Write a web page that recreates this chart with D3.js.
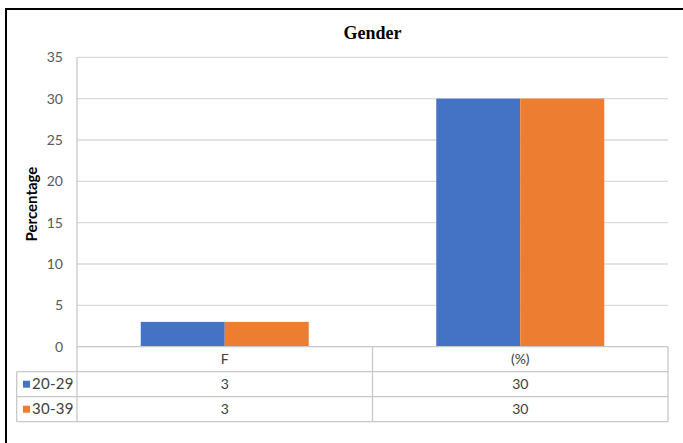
<!DOCTYPE html>
<html lang="en">
<head>
  <meta charset="UTF-8">
  <title>Gender</title>
  <script src="https://d3js.org/d3.v7.min.js"></script>
  <style>
    body
    {
      margin: 0;
      background-color: #ffffff;
    }

    svg
    {
      font-family: Lato, "Open Sans", sans-serif;
      display: block;
    }
  </style>
</head>
<body>
  <svg width="683" height="443"></svg>
  <script>
    const categories = ["F", "(%)"];
    const seriesNames = ["20-29", "30-39"];
    const values2029 = [3, 30];
    const values3039 = [3, 30];
    const yTicks = [0, 5, 10, 15, 20, 25, 30, 35];

    const seriesValues = [values2029, values3039];
    const colors = ["#4472C4", "#ED7D31"];

    const svg = d3.select("svg");

    const plot = { left: 77, right: 668, top: 57.3, bottom: 346.7 };
    const rowH = 25;
    const tableLeft = 16.7;

    //outer frame
    svg.append("rect")
      .attr("x", 6)
      .attr("y", 9)
      .attr("width", 700)
      .attr("height", 460)
      .attr("fill", "none")
      .attr("stroke", "#000")
      .attr("stroke-width", 2);

    const y = d3.scaleLinear()
      .domain([0, 35])
      .range([plot.bottom, plot.top]);

    const x0 = d3.scaleBand()
      .domain(categories)
      .range([plot.left, plot.right])
      .paddingInner(0)
      .paddingOuter(0);

    const x1 = d3.scaleBand()
      .domain(seriesNames)
      .range([0, x0.bandwidth()])
      .paddingInner(0)
      .paddingOuter(0.759);

    //gridlines
    svg.append("g")
      .selectAll("line")
      .data(yTicks.filter(t => t > 0))
      .join("line")
      .attr("x1", plot.left)
      .attr("x2", plot.right)
      .attr("y1", d => y(d))
      .attr("y2", d => y(d))
      .attr("stroke", "#d9d9d9")
      .attr("stroke-width", 1.3);

    //tick labels
    svg.append("g")
      .selectAll("text")
      .data(yTicks)
      .join("text")
      .attr("x", 63)
      .attr("y", d => y(d))
      .attr("dy", "0.35em")
      .attr("text-anchor", "end")
      .attr("fill", "#595959")
      .style("font-size", "14px")
      .text(d => d);

    //bars
    const rows = [];
    seriesNames.forEach((s, i) => {
      categories.forEach((c, j) => {
        rows.push({ series: s, cat: c, value: seriesValues[i][j], color: colors[i] });
      });
    });

    svg.append("g")
      .selectAll("rect")
      .data(rows)
      .join("rect")
      .attr("x", d => x0(d.cat) + x1(d.series))
      .attr("y", d => y(d.value))
      .attr("width", x1.bandwidth())
      .attr("height", d => y(0) - y(d.value))
      .attr("fill", d => d.color);

    //data table
    const table = svg.append("g")
      .attr("stroke", "#c8c8c8")
      .attr("stroke-width", 1.3);

    table.append("line")
      .attr("x1", plot.left).attr("x2", plot.right)
      .attr("y1", plot.bottom).attr("y2", plot.bottom);

    [1, 2, 3].forEach(r => {
      table.append("line")
        .attr("x1", tableLeft).attr("x2", plot.right)
        .attr("y1", plot.bottom + r * rowH).attr("y2", plot.bottom + r * rowH);
    });

    table.append("line")
      .attr("x1", tableLeft).attr("x2", tableLeft)
      .attr("y1", plot.bottom + rowH).attr("y2", plot.bottom + 3 * rowH);

    table.append("line")
      .attr("x1", plot.left).attr("x2", plot.left)
      .attr("y1", plot.top).attr("y2", plot.bottom + 3 * rowH);

    categories.slice(1).forEach(c => {
      table.append("line")
        .attr("x1", x0(c)).attr("x2", x0(c))
        .attr("y1", plot.bottom).attr("y2", plot.bottom + 3 * rowH);
    });

    table.append("line")
      .attr("x1", plot.right).attr("x2", plot.right)
      .attr("y1", plot.bottom).attr("y2", plot.bottom + 3 * rowH);

    const textColor = "#404040";

    //category row
    svg.append("g")
      .selectAll("text")
      .data(categories)
      .join("text")
      .attr("x", d => x0(d) + x0.bandwidth() / 2)
      .attr("y", plot.bottom + rowH / 2)
      .attr("dy", "0.35em")
      .attr("text-anchor", "middle")
      .attr("fill", textColor)
      .style("font-size", "14px")
      .text(d => d);

    //series rows
    seriesNames.forEach((s, i) => {
      const cy = plot.bottom + (i + 1.5) * rowH;

      svg.append("rect")
        .attr("x", 23)
        .attr("y", cy - 3.5)
        .attr("width", 7)
        .attr("height", 7)
        .attr("fill", colors[i]);

      svg.append("text")
        .attr("x", 32)
        .attr("y", cy)
        .attr("dy", "0.35em")
        .attr("fill", textColor)
        .style("font-size", "15px")
        .style("letter-spacing", "0.3px")
        .text(s);

      svg.append("g")
        .selectAll("text")
        .data(categories.map((c, j) => ({ cat: c, value: seriesValues[i][j] })))
        .join("text")
        .attr("x", d => x0(d.cat) + x0.bandwidth() / 2)
        .attr("y", cy)
        .attr("dy", "0.35em")
        .attr("text-anchor", "middle")
        .attr("fill", textColor)
        .style("font-size", "14px")
        .text(d => d.value);
    });

    //y axis title
    svg.append("text")
      .attr("transform", `translate(37, ${(plot.top + plot.bottom) / 2 + 2}) rotate(-90)`)
      .attr("text-anchor", "middle")
      .attr("fill", "#000")
      .style("font-size", "15px")
      .style("font-weight", "bold")
      .text("Percentage");

    //chart title
    svg.append("text")
      .attr("x", (plot.left + plot.right) / 2)
      .attr("y", 39)
      .attr("text-anchor", "middle")
      .attr("fill", "#000")
      .style("font-family", "'Liberation Serif', 'DejaVu Serif', serif")
      .style("font-size", "18px")
      .style("font-weight", "bold")
      .text("Gender");
  </script>
</body>
</html>
